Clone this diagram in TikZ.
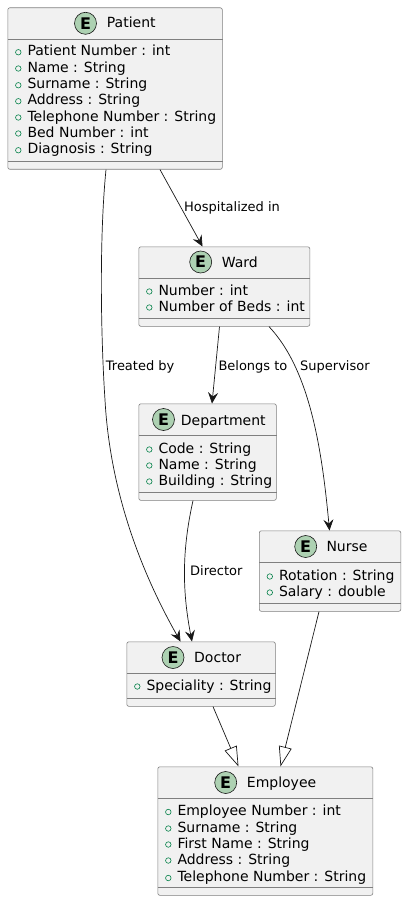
\documentclass[tikz,border=0pt]{standalone}
\usepackage{fontspec}
\setmainfont{DejaVu Sans}
\usetikzlibrary{positioning,arrows.meta,calc}
\definecolor{umlFill}{HTML}{F1F1F1}
\definecolor{umlLine}{HTML}{7F7F7F}
\definecolor{umlDark}{HTML}{181818}
\definecolor{umlSpot}{HTML}{ADD1B2}
\definecolor{umlField}{HTML}{038048}
% one line of a member list: box, line number, offset below its top, text
\newcommand{\memberline}[4]{%
  \node[fieldmark] (#1m#2) at ($(#1.north west)+(10.8,#3)$) {};
  \node[membertxt] (#1t#2) at ($(#1.north west)+(19.8,#3)$) {#4};
}
\begin{document}
\begin{tikzpicture}[
  x=1pt, y=-1pt,
  entbox/.style={draw=umlLine, fill=umlFill, line width=0.6pt, rounded corners=2pt, anchor=north west, inner sep=0pt},
  sepline/.style={draw=umlLine, line width=0.6pt},
  spot/.style={circle, draw=umlDark, fill=umlSpot, line width=0.6pt, minimum size=22pt, inner sep=0pt, font=\fontsize{16}{16}\selectfont\bfseries},
  headtxt/.style={font=\fontsize{14}{14}\selectfont, inner sep=0pt, text height=10.5pt, text depth=3pt, anchor=west},
  membertxt/.style={font=\fontsize{14}{14}\selectfont, inner sep=0pt, text height=10.5pt, text depth=3pt, anchor=west},
  fieldmark/.style={circle, draw=umlField, line width=0.6pt, minimum size=5.5pt, inner sep=0pt},
  lbl/.style={font=\fontsize{13}{13}\selectfont, inner sep=0pt, text height=9.5pt, text depth=2.5pt, anchor=west},
  arr/.style={-{Stealth[length=11pt, width=10pt, inset=4pt]}, draw=umlDark, line width=0.7pt},
  isa/.style={-{Triangle[open, length=20pt, width=13pt, fill=white]}, draw=umlDark, line width=0.7pt},
]
\useasboundingbox (0,0) rectangle (406,901);
% patient
\node[entbox, minimum width=214.5pt, minimum height=161.5pt] (patient) at (7.5,7.5) {};
\draw[sepline] ($(patient.north west)+(0,31.5)$) -- ($(patient.north east)+(0,31.5)$);
\draw[sepline] ($(patient.south west)+(0,-8)$) -- ($(patient.south east)+(0,-8)$);
\node[spot] (patientE) at (85.5,23.3) {E};
\node[headtxt] (patientH) at (106.7,24.2) {Patient};
\memberline{patient}{1}{44.75}{Patient Number : int}
\memberline{patient}{2}{61}{Name : String}
\memberline{patient}{3}{77.75}{Surname : String}
\memberline{patient}{4}{93.75}{Address : String}
\memberline{patient}{5}{110}{Telephone Number : String}
\memberline{patient}{6}{126}{Bed Number : int}
\memberline{patient}{7}{142.75}{Diagnosis : String}
% ward
\node[entbox, minimum width=171pt, minimum height=79.5pt] (ward) at (138.5,246.5) {};
\draw[sepline] ($(ward.north west)+(0,31.5)$) -- ($(ward.north east)+(0,31.5)$);
\draw[sepline] ($(ward.south west)+(0,-8)$) -- ($(ward.south east)+(0,-8)$);
\node[spot] (wardE) at (200.7,262) {E};
\node[headtxt] (wardH) at (221.7,263.25) {Ward};
\memberline{ward}{1}{45}{Number : int}
\memberline{ward}{2}{61}{Number of Beds : int}
% department
\node[entbox, minimum width=137.5pt, minimum height=96.5pt] (dept) at (138.5,403.5) {};
\draw[sepline] ($(dept.north west)+(0,31.5)$) -- ($(dept.north east)+(0,31.5)$);
\draw[sepline] ($(dept.south west)+(0,-8)$) -- ($(dept.south east)+(0,-8)$);
\node[spot] (deptE) at (163.5,419.5) {E};
\node[headtxt] (deptH) at (180.7,421.25) {Department};
\memberline{dept}{1}{46}{Code : String}
\memberline{dept}{2}{62}{Name : String}
\memberline{dept}{3}{78}{Building : String}
% nurse
\node[entbox, minimum width=141.5pt, minimum height=80.5pt] (nurse) at (259,530.5) {};
\draw[sepline] ($(nurse.north west)+(0,31.5)$) -- ($(nurse.north east)+(0,31.5)$);
\draw[sepline] ($(nurse.south west)+(0,-8)$) -- ($(nurse.south east)+(0,-8)$);
\node[spot] (nurseE) at (305.7,546.5) {E};
\node[headtxt] (nurseH) at (326.3,547.5) {Nurse};
\memberline{nurse}{1}{46}{Rotation : String}
\memberline{nurse}{2}{62}{Salary : double}
% doctor
\node[entbox, minimum width=148.5pt, minimum height=64.5pt] (doctor) at (126.5,641.5) {};
\draw[sepline] ($(doctor.north west)+(0,31.5)$) -- ($(doctor.north east)+(0,31.5)$);
\draw[sepline] ($(doctor.south west)+(0,-8)$) -- ($(doctor.south east)+(0,-8)$);
\node[spot] (doctorE) at (173,657.5) {E};
\node[headtxt] (doctorH) at (194,658.3) {Doctor};
\memberline{doctor}{1}{45}{Speciality : String}
% employee
\node[entbox, minimum width=215pt, minimum height=128.5pt] (employee) at (157.5,766.5) {};
\draw[sepline] ($(employee.north west)+(0,31.5)$) -- ($(employee.north east)+(0,31.5)$);
\draw[sepline] ($(employee.south west)+(0,-8)$) -- ($(employee.south east)+(0,-8)$);
\node[spot] (employeeE) at (225.7,782.5) {E};
\node[headtxt] (employeeH) at (246.7,783.3) {Employee};
\memberline{employee}{1}{45.5}{Employee Number : int}
\memberline{employee}{2}{62}{Surname : String}
\memberline{employee}{3}{78}{First Name : String}
\memberline{employee}{4}{94}{Address : String}
\memberline{employee}{5}{111.5}{Telephone Number : String}
% connectors
\draw[arr] ($(patient.south west)+(98.5,0)$) .. controls (99,240) and (101,340) .. (105,400) .. controls (110,490) and (140,570) .. ($(doctor.north west)+(54,0)$);
\draw[arr] ($(patient.south west)+(152.5,0)$) -- ($(ward.north west)+(64,0)$);
\draw[arr] ($(ward.south west)+(81,0)$) -- ($(dept.north west)+(73.5,0)$);
\draw[arr] ($(ward.south west)+(130.5,0)$) .. controls (310,370) and (322,450) .. ($(nurse.north west)+(70.5,0)$);
\draw[arr] ($(dept.south west)+(54.5,0)$) .. controls (182,550) and (182,590) .. ($(doctor.north west)+(65.5,0)$);
\draw[isa] ($(doctor.south west)+(86.5,0)$) -- ($(employee.north west)+(81,0)$);
\draw[isa] ($(nurse.south west)+(60,0)$) -- ($(employee.north west)+(123,0)$);
% labels
\node[lbl] (lblHosp) at (184,208.2) {Hospitalized in};
\node[lbl] (lblTreat) at (105.7,366.5) {Treated by};
\node[lbl] (lblDept) at (218.3,366.5) {Belongs to};
\node[lbl] (lblSup) at (300,366.5) {Supervisor};
\node[lbl] (lblDir) at (190,571.5) {Director};
\end{tikzpicture}
\end{document}
